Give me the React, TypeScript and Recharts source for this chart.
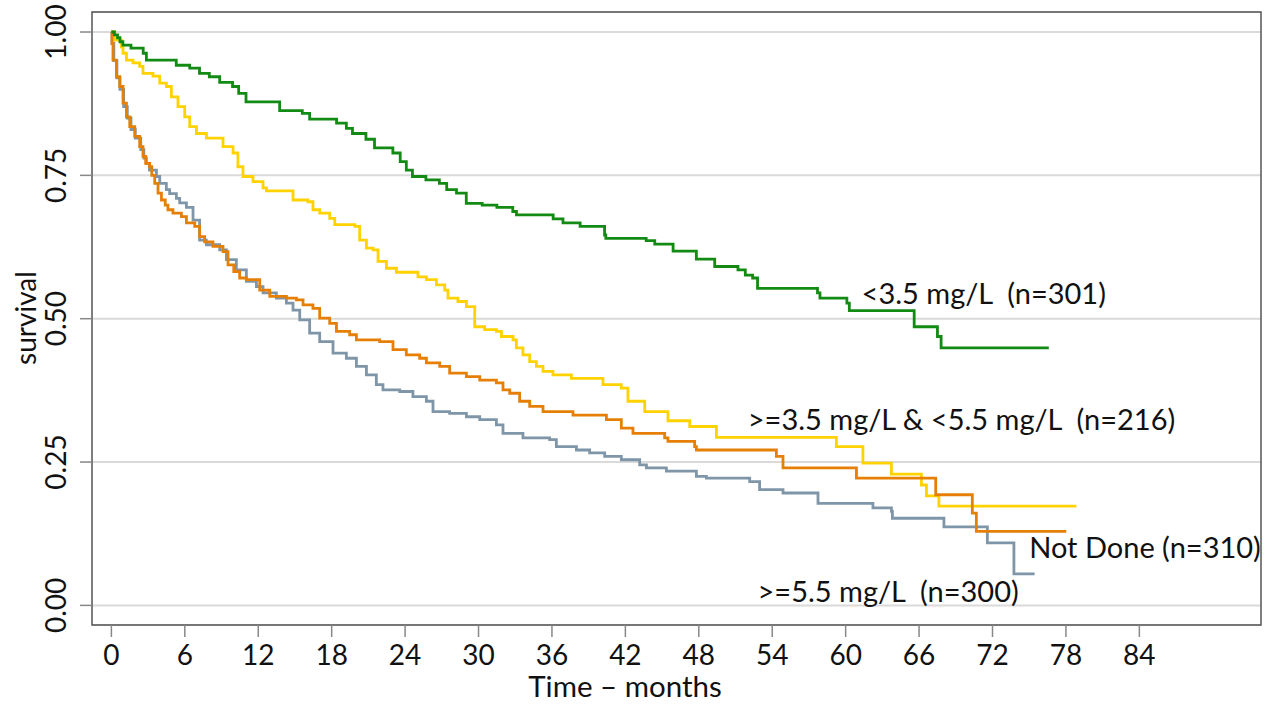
import { CartesianGrid, Line, LineChart, ReferenceArea, ReferenceDot, XAxis, YAxis } from "recharts";

// survival curves, [month, survival]
const lowGroup = [
  [0, 1], [0.25, 0.995], [0.5, 0.99], [0.7, 0.983], [0.94, 0.977], [1.6, 0.972], [2.6, 0.963],
  [2.86, 0.951], [5.3, 0.942], [6.4, 0.937], [7.2, 0.928],
  [8.0, 0.922], [8.85, 0.912], [9.9, 0.905], [10.4, 0.893], [11.0, 0.878], [13.75, 0.863], [15.6, 0.858],
  [16.2, 0.848], [18.4, 0.841], [19.2, 0.832], [19.7, 0.823], [20.8, 0.813], [21.5, 0.798],
  [23.0, 0.789], [23.6, 0.774], [24.1, 0.759], [24.6, 0.748], [25.7, 0.742], [26.8, 0.736],
  [27.4, 0.725], [28.2, 0.719], [29.0, 0.701], [30.3, 0.698], [31.5, 0.694], [32.8, 0.687],
  [33.1, 0.681], [36.1, 0.674], [36.9, 0.667], [38.3, 0.661], [40.3, 0.646], [40.4, 0.64],
  [43.7, 0.636], [44.4, 0.63], [45.9, 0.618], [47.8, 0.604], [49.3, 0.591], [51.2, 0.585],
  [51.8, 0.576], [52.4, 0.571], [52.8, 0.553], [57.7, 0.545], [57.9, 0.536], [60.1, 0.527],
  [60.3, 0.514], [65.6, 0.486], [67.5, 0.469], [67.8, 0.449], [76.6, 0.449],
];

const midGroup = [
  [0, 1], [0.27, 0.986], [0.82, 0.974], [0.95, 0.963], [1.23, 0.951], [1.76, 0.946], [2.31, 0.94],
  [2.58, 0.928], [3.4, 0.923], [3.95, 0.911], [4.49, 0.905], [4.9, 0.887], [5.44, 0.87],
  [5.99, 0.852], [6.4, 0.835], [6.95, 0.823], [7.76, 0.815], [9.12, 0.8], [9.94, 0.789],
  [10.34, 0.765], [10.75, 0.748], [11.57, 0.739], [12.39, 0.728], [12.67, 0.723], [14.84, 0.707],
  [16.06, 0.704], [16.47, 0.69], [17.02, 0.684], [17.84, 0.675], [18.25, 0.664], [19.9, 0.661],
  [20.29, 0.637], [20.84, 0.623], [21.38, 0.62], [21.79, 0.6], [22.47, 0.588], [23.29, 0.581],
  [25.05, 0.573], [25.74, 0.568], [26.56, 0.559], [27.24, 0.55], [27.5, 0.536], [28.32, 0.53],
  [29.01, 0.521], [29.69, 0.486], [30.5, 0.481], [31.46, 0.478], [31.87, 0.469], [32.82, 0.463],
  [33.09, 0.449], [33.63, 0.437], [34.18, 0.425], [34.73, 0.417], [35.27, 0.408], [36.08, 0.402],
  [37.59, 0.396], [40.17, 0.385], [41.67, 0.379], [42.21, 0.356], [43.58, 0.338], [45.48, 0.322],
  [47.26, 0.312], [49.44, 0.293], [59.24, 0.277], [61.41, 0.248], [63.74, 0.229], [66.19, 0.21],
  [66.6, 0.191], [67.62, 0.173], [78.85, 0.173],
];

const notDone = [
  [0, 1], [0.05, 0.98], [0.13, 0.951], [0.41, 0.922], [0.68, 0.905], [0.95, 0.876], [1.23, 0.852],
  [1.5, 0.835], [1.91, 0.818], [2.31, 0.8], [2.58, 0.783], [2.8, 0.771], [3.13, 0.765], [3.3, 0.75],
  [3.54, 0.736], [3.81, 0.719], [4.09, 0.707], [4.4, 0.698], [4.62, 0.69], [5.03, 0.684],
  [5.72, 0.678], [6.13, 0.667], [6.81, 0.661], [7.21, 0.643], [7.62, 0.634], [8.3, 0.626],
  [9.12, 0.617], [9.53, 0.594], [10.0, 0.582], [10.48, 0.571], [11.03, 0.568], [12.12, 0.55],
  [12.94, 0.539], [14.3, 0.536], [15.12, 0.533], [15.66, 0.524], [16.47, 0.518], [17.02, 0.501],
  [17.84, 0.492], [18.39, 0.478], [19.47, 0.472], [20.02, 0.463], [21.92, 0.46], [23.01, 0.446],
  [24.1, 0.437], [25.19, 0.431], [25.74, 0.423], [26.83, 0.417], [27.64, 0.405], [29.01, 0.399],
  [30.1, 0.393], [31.46, 0.388], [32.0, 0.376], [32.55, 0.37], [33.36, 0.356], [34.18, 0.347],
  [35.27, 0.338], [37.72, 0.332], [40.45, 0.324], [41.67, 0.309], [42.62, 0.3], [45.21, 0.292],
  [45.48, 0.286], [47.66, 0.277], [47.8, 0.271], [54.34, 0.26], [54.88, 0.24], [60.88, 0.222],
  [67.36, 0.193], [70.35, 0.161], [70.68, 0.129], [78.03, 0.129],
];

const highGroup = [
  [0, 1], [0.05, 0.98], [0.2, 0.95], [0.45, 0.92], [0.7, 0.9], [1.0, 0.87], [1.3, 0.85],
  [1.6, 0.83], [1.95, 0.815], [2.4, 0.795], [2.65, 0.78], [2.86, 0.771], [3.11, 0.759],
  [3.68, 0.748], [3.95, 0.736], [4.49, 0.725], [4.76, 0.718], [5.31, 0.71], [5.58, 0.702],
  [6.13, 0.694], [6.67, 0.672], [7.21, 0.637], [7.76, 0.629], [8.85, 0.62], [9.4, 0.603],
  [10.21, 0.585], [11.03, 0.565], [11.85, 0.556], [12.39, 0.545], [13.48, 0.536], [14.3, 0.527],
  [14.84, 0.515], [15.39, 0.498], [16.2, 0.475], [17.02, 0.46], [18.11, 0.44], [19.2, 0.431],
  [20.02, 0.417], [20.84, 0.402], [21.65, 0.385], [22.19, 0.376], [23.56, 0.373], [24.64, 0.364],
  [25.74, 0.356], [26.28, 0.338], [27.64, 0.335], [29.01, 0.329], [30.1, 0.324], [31.46, 0.315],
  [32.0, 0.3], [33.63, 0.292], [35.81, 0.289], [36.36, 0.277], [38.0, 0.271], [39.08, 0.266],
  [40.31, 0.26], [41.67, 0.254], [43.17, 0.245], [43.72, 0.24], [45.35, 0.234], [47.8, 0.225],
  [48.62, 0.222], [52.16, 0.216], [52.97, 0.202], [54.88, 0.196], [57.74, 0.178], [62.23, 0.17],
  [63.74, 0.164], [63.82, 0.152], [68.03, 0.137], [71.58, 0.109], [73.75, 0.055], [75.44, 0.055],
];

const monthTicks = [0, 6, 12, 18, 24, 30, 36, 42, 48, 54, 60, 66, 72, 78, 84];
const survTicks = [0, 0.25, 0.5, 0.75, 1];

// curve labels: text, month where text starts, survival at its middle
const curveLabels = [
  { text: "<3.5 mg/L\u00a0\u00a0(n=301)", t: 61.3, s: 0.543 },
  { text: ">=3.5 mg/L & <5.5 mg/L\u00a0\u00a0(n=216)", t: 52.0, s: 0.324 },
  { text: "Not Done (n=310)", t: 75.0, s: 0.1 },
  { text: ">=5.5 mg/L\u00a0\u00a0(n=300)", t: 52.8, s: 0.024 },
];

const toPts = (rows: number[][]) => rows.map(([t, s]) => ({ t, s }));

const FONT = "Lato, 'Open Sans', sans-serif";
const X_DOMAIN = [-1.585, 93.94];
const Y_DOMAIN = [-0.0342, 1.0349];
const LW = 2.8;

const XTick = ({ x, y, payload }: any) => (
  <text x={x} y={y + 26} textAnchor="middle" fontFamily={FONT} fontSize={28} fill="#111">
    {payload.value}
  </text>
);

const YTick = ({ y, payload }: any) => (
  <text
    transform={`translate(55, ${y}) rotate(-90)`}
    textAnchor="middle"
    dominantBaseline="central"
    fontFamily={FONT}
    fontSize={28}
    fill="#111"
  >
    {payload.value.toFixed(2)}
  </text>
);

export default function App() {
  return (
    <div style={{ position: "absolute", left: 0, top: 0, background: "#fff" }}>
      <LineChart width={1273} height={709} margin={{ top: 12, right: 12, bottom: 0, left: 0 }}>
        <CartesianGrid vertical={false} stroke="#dadada" strokeWidth={2} />
        <XAxis
          dataKey="t"
          type="number"
          domain={X_DOMAIN}
          ticks={monthTicks}
          allowDataOverflow
          height={84}
          axisLine={false}
          tickSize={12}
          tickLine={{ stroke: "#888", strokeWidth: 1.5 }}
          tick={<XTick />}
          label={{
            content: () => (
              <text x={625} y={697} textAnchor="middle" fontFamily={FONT} fontSize={29.5} fill="#111">
                Time – months
              </text>
            ),
          }}
        />
        <YAxis
          type="number"
          domain={Y_DOMAIN}
          ticks={survTicks}
          allowDataOverflow
          width={92}
          axisLine={false}
          tickSize={12}
          tickLine={{ stroke: "#888", strokeWidth: 1.5 }}
          tick={<YTick />}
          label={{
            content: () => (
              <text
                transform="translate(25, 318) rotate(-90)"
                textAnchor="middle"
                dominantBaseline="central"
                fontFamily={FONT}
                fontSize={28}
                fill="#111"
              >
                survival
              </text>
            ),
          }}
        />
        <ReferenceArea
          x1={X_DOMAIN[0]}
          x2={X_DOMAIN[1]}
          y1={Y_DOMAIN[0]}
          y2={Y_DOMAIN[1]}
          fill="none"
          stroke="#555"
          strokeWidth={1.5}
          ifOverflow="visible"
        />
        <Line data={toPts(highGroup)} dataKey="s" type="stepAfter" stroke="#7f95a8" strokeWidth={LW} dot={false} isAnimationActive={false} />
        <Line data={toPts(midGroup)} dataKey="s" type="stepAfter" stroke="#ffd200" strokeWidth={LW} dot={false} isAnimationActive={false} />
        <Line data={toPts(notDone)} dataKey="s" type="stepAfter" stroke="#e57f06" strokeWidth={LW} dot={false} isAnimationActive={false} />
        <Line data={toPts(lowGroup)} dataKey="s" type="stepAfter" stroke="#138a13" strokeWidth={LW} dot={false} isAnimationActive={false} />
        {curveLabels.map((l) => (
          <ReferenceDot
            key={l.text}
            x={l.t}
            y={l.s}
            r={0}
            fill="none"
            stroke="none"
            label={{ value: l.text, position: "right", offset: 0, fontFamily: FONT, fontSize: 29, fill: "#111" }}
          />
        ))}
      </LineChart>
    </div>
  );
}
